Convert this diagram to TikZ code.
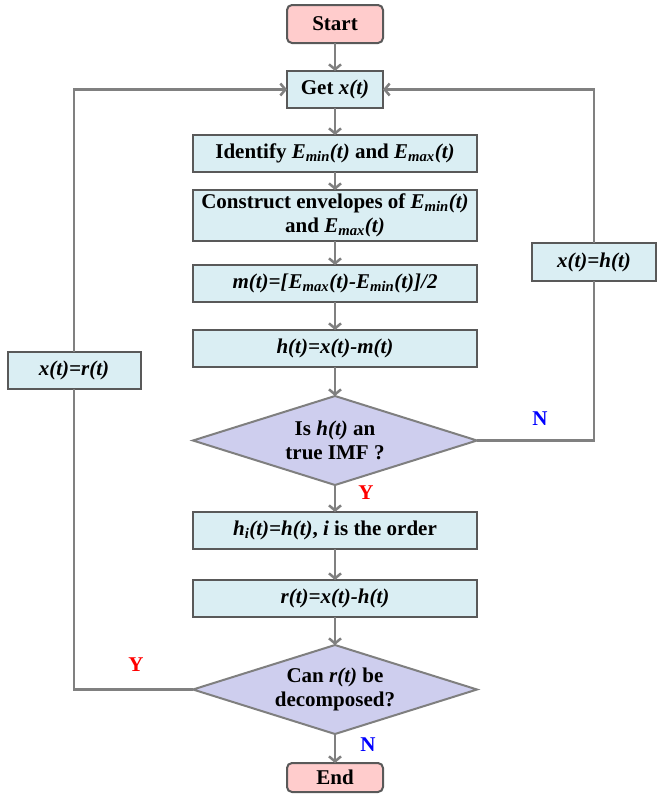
\documentclass[tikz,border=0pt]{standalone}
\usepackage{fontspec}
\setmainfont{Liberation Serif}
\usetikzlibrary{positioning}
\usetikzlibrary{shapes.geometric}
\usetikzlibrary{arrows.meta}

\definecolor{boxfill}{HTML}{DAEEF3}
\definecolor{boxline}{HTML}{595959}
\definecolor{decfill}{HTML}{CECEEE}
\definecolor{decline}{HTML}{7F7F7F}
\definecolor{termfill}{HTML}{FFCCCC}
\definecolor{linegray}{HTML}{808080}

\newcommand{\Emn}{\textit{E}\textsubscript{\textit{min}}\textit{(t)}}
\newcommand{\Emx}{\textit{E}\textsubscript{\textit{max}}\textit{(t)}}

\begin{document}
\begin{tikzpicture}[x=1pt, y=-1pt,
  every node/.style={font=\fontsize{21}{24}\selectfont\bfseries, outer sep=0pt},
  term/.style={draw=boxline, line width=2pt, rounded corners=5pt, fill=termfill, align=center, minimum width=96pt, minimum height=38pt},
  proc/.style={draw=boxline, line width=2pt, fill=boxfill, align=center, minimum width=284pt, minimum height=37pt},
  decide/.style={diamond, draw=decline, line width=2pt, fill=decfill, align=center, aspect=3.19, inner sep=0pt, minimum width=284pt, minimum height=89pt},
  arrow/.style={-{Straight Barb[length=5pt, width=12pt]}, draw=linegray, line width=2.5pt},
  link/.style={draw=linegray, line width=2.5pt},
  yes/.style={text=red},
  no/.style={text=blue}
]
\useasboundingbox (0,0) rectangle (657,798);

\node[term] (start) at (335,24) {Start};
\node[proc, minimum width=96pt, below=28pt of start] (get) {Get \textit{x(t)}};
\node[proc, below=27pt of get] (ident) {Identify \Emn{} and \Emx};
\node[proc, minimum height=51pt, below=18pt of ident] (envel) {Construct envelopes of \Emn\\and \Emx};
\node[proc, below=24pt of envel] (mean) {\textit{m(t)=[}\Emx\textit{-}\Emn\textit{]/2}};
\node[proc, below=28pt of mean] (hdiff) {\textit{h(t)=x(t)-m(t)}};
\node[decide, below=29pt of hdiff] (imf) {Is \textit{h(t)} an\\true IMF ?};
\node[proc, below=27pt of imf] (himf) {\textit{h\textsubscript{i}(t)=h(t)}, \textit{i} is the order};
\node[proc, below=31pt of himf] (rdiff) {\textit{r(t)=x(t)-h(t)}};
\node[decide, below=28pt of rdiff] (canr) {Can \textit{r(t)} be\\decomposed?};
\node[term, minimum height=29pt, below=29pt of canr] (stop) {End};

\node[proc, minimum width=133pt] (xr) at (74,370) {\textit{x(t)=r(t)}};
\node[proc, minimum width=124pt, minimum height=38pt] (xh) at (594,262) {\textit{x(t)=h(t)}};

% main column
\draw[arrow] (start) -- (get);
\draw[arrow] (get) -- (ident);
\draw[arrow] (ident) -- (envel);
\draw[arrow] (envel) -- (mean);
\draw[arrow] (mean) -- (hdiff);
\draw[arrow] (hdiff) -- (imf);
\draw[arrow] (imf) -- (himf);
\draw[arrow] (himf) -- (rdiff);
\draw[arrow] (rdiff) -- (canr);
\draw[arrow] (canr) -- (stop);

% loops back
\draw[link] (imf.east) -| (xh.south);
\draw[arrow] (xh.north) |- (get.east);
\draw[link] (canr.west) -| (xr.south);
\draw[arrow] (xr.north) |- (get.west);

\node[yes] (y1) at (366,493) {Y};
\node[no] (n1) at (540,419) {N};
\node[yes] (y2) at (136,665) {Y};
\node[no] (n2) at (368,745) {N};

\end{tikzpicture}
\end{document}
